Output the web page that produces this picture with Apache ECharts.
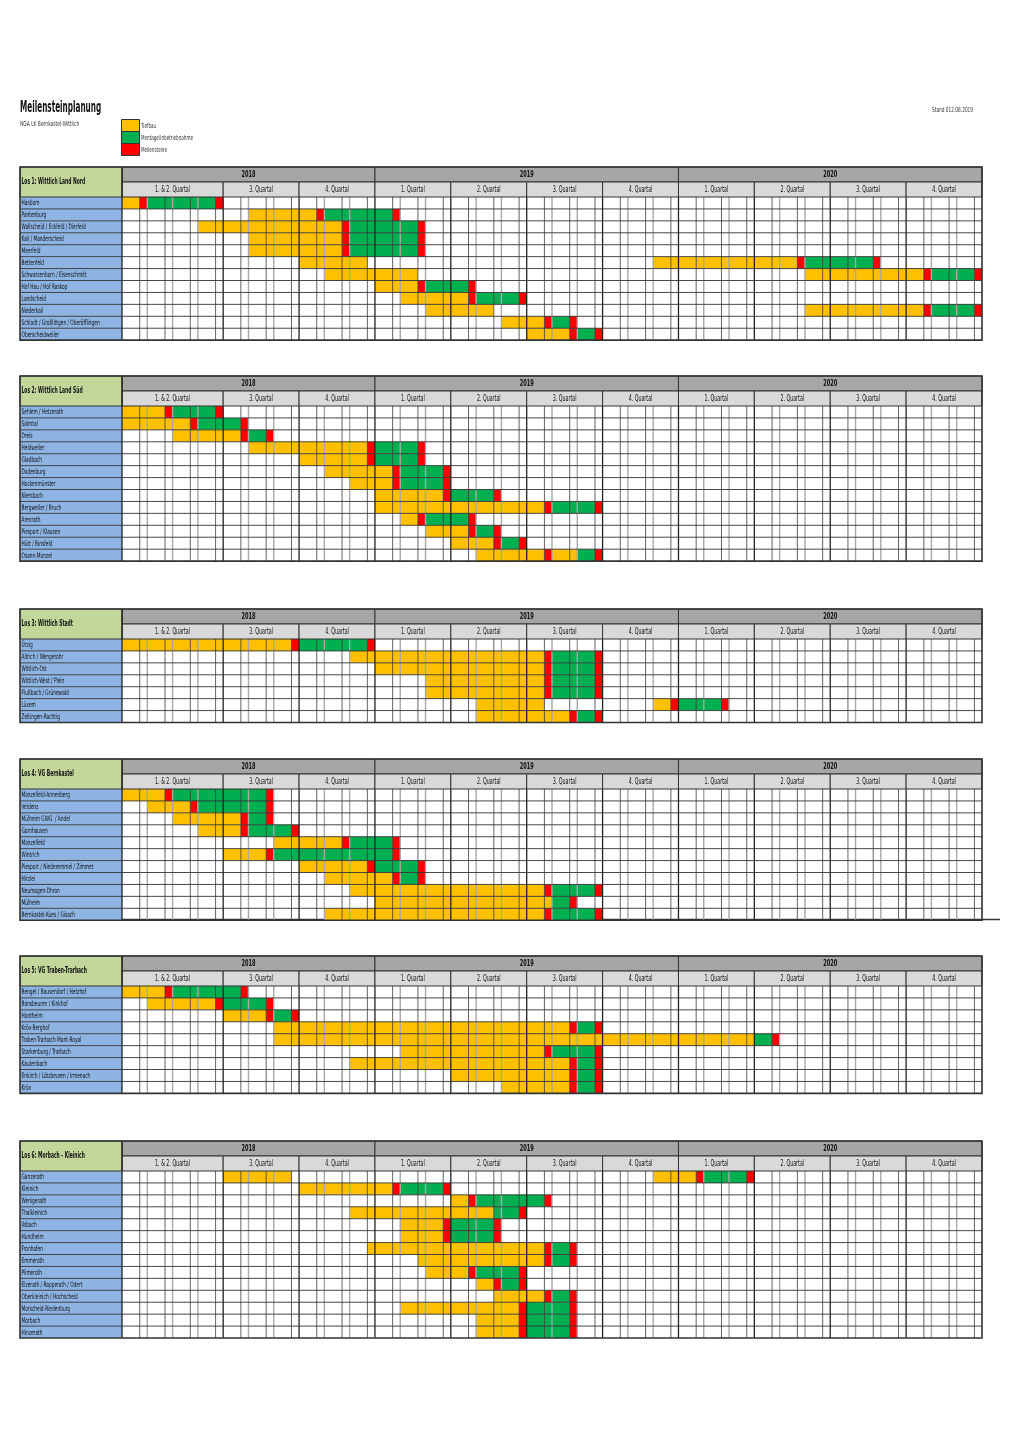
<!DOCTYPE html>
<html><head><meta charset="utf-8">
<script src="https://cdn.jsdelivr.net/npm/echarts@6/dist/echarts.min.js"></script>
<style>html,body{margin:0;padding:0;background:#fff}#c{width:1020px;height:1441px}</style>
</head><body><div id="c"></div>
<script>
// ---------------- DATA ----------------
const years = ['2018', '2019', '2020'];
const yearMonths = [10, 12, 12];
const quarterLabels = ['1. & 2. Quartal', '3. Quartal', '4. Quartal',
  '1. Quartal', '2. Quartal', '3. Quartal', '4. Quartal',
  '1. Quartal', '2. Quartal', '3. Quartal', '4. Quartal'];
const quarterMonths = [4, 3, 3, 3, 3, 3, 3, 3, 3, 3, 3];
const phaseNames = ['Tiefbau', 'Montage/Inbetriebnahme', 'Meilensteine'];
const phaseKeys = { T: 0, M: 1, S: 2 };

// bars: [row, phase, fromSubColumn, toSubColumn]  (each month = wide + narrow sub-column)
const los1Title = 'Los 1: Wittlich Land Nord';
const los1Rows = ['Hasborn', 'Pantenburg', 'Wallscheid / Eckfeld / Dierfeld', 'Kail / Manderscheid', 'Meerfeld',
  'Bettenfeld', 'Schwarzenborn / Eisenschmitt', 'Hof Hau / Hof Raskop', 'Landscheid', 'Niederkail',
  'Schladt / Großlittgen / Oberöfflingen', 'Oberscheidweiler'];
const los1Bars = [
  [0,'T',0,0],[0,'S',1,1],[0,'M',2,6],[0,'S',7,7],
  [1,'T',10,14],[1,'S',15,15],[1,'M',16,20],[1,'S',21,21],
  [2,'T',6,16],[2,'S',17,17],[2,'M',18,22],[2,'S',23,23],
  [3,'T',10,16],[3,'S',17,17],[3,'M',18,22],[3,'S',23,23],
  [4,'T',10,16],[4,'S',17,17],[4,'M',18,22],[4,'S',23,23],
  [5,'T',14,18],[5,'T',42,52],[5,'S',53,53],[5,'M',54,58],[5,'S',59,59],
  [6,'T',16,22],[6,'T',54,62],[6,'S',63,63],[6,'M',64,66],[6,'S',67,67],
  [7,'T',20,22],[7,'S',23,23],[7,'M',24,26],[7,'S',27,27],
  [8,'T',22,26],[8,'S',27,27],[8,'M',28,30],[8,'S',31,31],
  [9,'T',24,28],[9,'T',54,62],[9,'S',63,63],[9,'M',64,66],[9,'S',67,67],
  [10,'T',30,32],[10,'S',33,33],[10,'M',34,34],[10,'S',35,35],
  [11,'T',32,34],[11,'S',35,35],[11,'M',36,36],[11,'S',37,37]
];

const los2Title = 'Los 2: Wittlich Land Süd';
const los2Rows = ['Sehlem / Hetzerath', 'Salmtal', 'Dreis', 'Heidweiler', 'Gladbach', 'Dodenburg', 'Hockenmünster',
  'Niersbach', 'Bergweiler / Bruch', 'Arenrath', 'Piesport / Klausen', 'Hütt / Binsfeld', 'Osann-Monzel'];
const los2Bars = [
  [0,'T',0,2],[0,'S',3,3],[0,'M',4,6],[0,'S',7,7],
  [1,'T',0,4],[1,'S',5,5],[1,'M',6,8],[1,'S',9,9],
  [2,'T',4,8],[2,'S',9,9],[2,'M',10,10],[2,'S',11,11],
  [3,'T',10,18],[3,'S',19,19],[3,'M',20,22],[3,'S',23,23],
  [4,'T',14,18],[4,'S',19,19],[4,'M',20,22],[4,'S',23,23],
  [5,'T',16,20],[5,'S',21,21],[5,'M',22,24],[5,'S',25,25],
  [6,'T',18,20],[6,'S',21,21],[6,'M',22,24],[6,'S',25,25],
  [7,'T',20,24],[7,'S',25,25],[7,'M',26,28],[7,'S',29,29],
  [8,'T',20,32],[8,'S',33,33],[8,'M',34,36],[8,'S',37,37],
  [9,'T',22,22],[9,'S',23,23],[9,'M',24,26],[9,'S',27,27],
  [10,'T',24,26],[10,'S',27,27],[10,'M',28,28],[10,'S',29,29],
  [11,'T',26,28],[11,'S',29,29],[11,'M',30,30],[11,'S',31,31],
  [12,'T',28,32],[12,'S',33,33],[12,'T',34,35],[12,'M',36,36],[12,'S',37,37]
];

const los3Title = 'Los 3: Wittlich Stadt';
const los3Rows = ['Ürzig', 'Altrich / Wengerohr', 'Wittlich-Ost', 'Wittlich-West / Plein', 'Flußbach / Grünewald',
  'Lüxem', 'Zeltingen-Rachtig'];
const los3Bars = [
  [0,'T',0,12],[0,'S',13,13],[0,'M',14,18],[0,'S',19,19],
  [1,'T',18,32],[1,'S',33,33],[1,'M',34,36],[1,'S',37,37],
  [2,'T',20,32],[2,'S',33,33],[2,'M',34,36],[2,'S',37,37],
  [3,'T',24,32],[3,'S',33,33],[3,'M',34,36],[3,'S',37,37],
  [4,'T',24,32],[4,'S',33,33],[4,'M',34,36],[4,'S',37,37],
  [5,'T',28,32],[5,'T',42,42],[5,'S',43,43],[5,'M',44,46],[5,'S',47,47],
  [6,'T',28,34],[6,'S',35,35],[6,'M',36,36],[6,'S',37,37]
];

const los4Title = 'Los 4: VG Bernkastel';
const los4Rows = ['Monzelfeld-Annenberg', 'Veldenz', 'Mülheim GWG  / Andel', 'Gornhausen', 'Monzelfeld', 'Wintrich',
  'Piesport / Niederemmel / Zimmet', 'Hirzlei', 'Neumagen-Dhron', 'Mülheim', 'Bernkastel-Kues / Gisach'];
const los4Bars = [
  [0,'T',0,2],[0,'S',3,3],[0,'M',4,10],[0,'S',11,11],
  [1,'T',2,4],[1,'S',5,5],[1,'M',6,10],[1,'S',11,11],
  [2,'T',4,8],[2,'S',9,9],[2,'M',10,10],[2,'S',11,11],
  [3,'T',6,8],[3,'S',9,9],[3,'M',10,12],[3,'S',13,13],
  [4,'T',12,16],[4,'S',17,17],[4,'M',18,20],[4,'S',21,21],
  [5,'T',8,10],[5,'S',11,11],[5,'M',12,20],[5,'S',21,21],
  [6,'T',14,18],[6,'S',19,19],[6,'M',20,22],[6,'S',23,23],
  [7,'T',16,20],[7,'S',21,21],[7,'M',22,22],[7,'S',23,23],
  [8,'T',18,32],[8,'S',33,33],[8,'M',34,36],[8,'S',37,37],
  [9,'T',20,33],[9,'M',34,34],[9,'S',35,35],
  [10,'T',16,32],[10,'S',33,33],[10,'M',34,36],[10,'S',37,37]
];

const los5Title = 'Los 5: VG Traben-Trarbach';
const los5Rows = ['Bengel / Bausendorf / Hetzhof', 'Bonsbeuren / Kinkhof', 'Hontheim', 'Kröv-Berghof',
  'Traben-Trarbach Mont-Royal', 'Starkenburg / Trarbach', 'Kautenbach', 'Enkirch / Lötzbeuren / Irmenach', 'Kröv'];
const los5Bars = [
  [0,'T',0,2],[0,'S',3,3],[0,'M',4,8],[0,'S',9,9],
  [1,'T',2,6],[1,'S',7,7],[1,'M',8,10],[1,'S',11,11],
  [2,'T',8,10],[2,'S',11,11],[2,'M',12,12],[2,'S',13,13],
  [3,'T',12,34],[3,'S',35,35],[3,'M',36,36],[3,'S',37,37],
  [4,'T',12,49],[4,'M',50,50],[4,'S',51,51],
  [5,'T',22,32],[5,'S',33,33],[5,'M',34,36],[5,'S',37,37],
  [6,'T',18,34],[6,'S',35,35],[6,'M',36,36],[6,'S',37,37],
  [7,'T',26,34],[7,'S',35,35],[7,'M',36,36],[7,'S',37,37],
  [8,'T',30,34],[8,'S',35,35],[8,'M',36,36],[8,'S',37,37]
];

const los6Title = 'Los 6: Morbach - Kleinich';
const los6Rows = ['Ganzerath', 'Kleinich', 'Wenigerath', 'Thalkleinich', 'Ilsbach', 'Hundheim', 'Fronhofen', 'Emmeroth',
  'Pilmeroth', 'Elzerath / Rapperath / Odert', 'Oberkleinich / Hochscheid', 'Morscheid-Riedenburg', 'Morbach', 'Hinzerath'];
const los6Bars = [
  [0,'T',8,12],[0,'T',42,44],[0,'S',45,45],[0,'M',46,48],[0,'S',49,49],
  [1,'T',14,20],[1,'S',21,21],[1,'M',22,24],[1,'S',25,25],
  [2,'T',26,26],[2,'S',27,27],[2,'M',28,32],[2,'S',33,33],
  [3,'T',18,28],[3,'M',29,30],[3,'S',31,31],
  [4,'T',22,24],[4,'S',25,25],[4,'M',26,28],[4,'S',29,29],
  [5,'T',22,24],[5,'S',25,25],[5,'M',26,28],[5,'S',29,29],
  [6,'T',19,32],[6,'S',33,33],[6,'M',34,34],[6,'S',35,35],
  [7,'T',23,32],[7,'S',33,33],[7,'M',34,34],[7,'S',35,35],
  [8,'T',24,26],[8,'S',27,27],[8,'M',28,30],[8,'S',31,31],
  [9,'T',28,28],[9,'S',29,29],[9,'M',30,30],[9,'S',31,31],
  [10,'T',29,32],[10,'S',33,33],[10,'M',34,34],[10,'S',35,35],
  [11,'T',22,30],[11,'S',31,31],[11,'M',32,34],[11,'S',35,35],
  [12,'T',28,30],[12,'S',31,31],[12,'M',32,34],[12,'S',35,35],
  [13,'T',28,30],[13,'S',31,31],[13,'M',32,34],[13,'S',35,35]
];

// ---------------- LAYOUT / STYLE ----------------
const FONT = "'Liberation Sans Narrow','Arial Narrow','DejaVu Sans Condensed',sans-serif";
const TS = 0.64;
const L = { left: 20, labelW: 102, gridW: 860, tops: [167, 376, 609, 759, 956, 1141], rowH: 11.93, headH: 15 };
const COLORS = ['#ffc000', '#00b050', '#ff0000'];
const WIDE = 0.7;

const tables = [
  { title: los1Title, rows: los1Rows, bars: los1Bars },
  { title: los2Title, rows: los2Rows, bars: los2Bars },
  { title: los3Title, rows: los3Rows, bars: los3Bars },
  { title: los4Title, rows: los4Rows, bars: los4Bars },
  { title: los5Title, rows: los5Rows, bars: los5Bars },
  { title: los6Title, rows: los6Rows, bars: los6Bars }
];

const MONTHS = yearMonths.reduce((a, b) => a + b, 0);
const LABW = L.labelW / (L.gridW / MONTHS);
const HDR = 2 * L.headH / L.rowH;
function subStart(c) { return Math.floor(c / 2) + (c % 2 ? WIDE : 0); }
function subEnd(c) { return Math.floor(c / 2) + (c % 2 ? 1 : WIDE); }
function cum(arr) { const o = [0]; arr.forEach(v => o.push(o[o.length - 1] + v)); return o; }
const yearEdges = cum(yearMonths);
const quarterEdges = cum(quarterMonths);

function txt(x, y, text, font, align, scale) {
  return { type: 'text', x: x, y: y, scaleX: scale || TS, silent: true,
    style: { text: text, fill: '#111', font: font, align: align || 'left', verticalAlign: 'middle',
      textAlign: align || 'left', textVerticalAlign: 'middle' } };
}
function rect(a, b, style) {
  return { type: 'rect', shape: { x: a[0], y: a[1], width: b[0] - a[0], height: b[1] - a[1] }, style: style };
}
function line(a, b, stroke, w) {
  return { type: 'line', shape: { x1: a[0], y1: a[1], x2: b[0], y2: b[1] }, style: { stroke: stroke, lineWidth: w } };
}

const grids = [], xAxes = [], yAxes = [], series = [];
tables.forEach((t, k) => {
  const n = t.rows.length;
  grids.push({ left: L.left, top: L.tops[k], width: L.labelW + L.gridW, height: 2 * L.headH + n * L.rowH });
  xAxes.push({ type: 'value', gridIndex: k, min: -LABW, max: MONTHS, show: false });
  yAxes.push({ type: 'value', gridIndex: k, min: -HDR, max: n, inverse: true, show: false });

  // row label cells
  series.push({
    type: 'custom', xAxisIndex: k, yAxisIndex: k, z: 2, silent: true, clip: false,
    data: t.rows.map((r, i) => [i]),
    renderItem: (p, api) => {
      const i = api.value(0);
      const a = api.coord([-LABW, i]), b = api.coord([0, i + 1]);
      return { type: 'group', children: [
        rect(a, b, { fill: '#8db4e2' }),
        txt(a[0] + 1.5, (a[1] + b[1]) / 2 + 0.5, t.rows[i], '7.5px ' + FONT, 'left')
      ] };
    }
  });

  // bars
  series.push({
    type: 'custom', xAxisIndex: k, yAxisIndex: k, z: 3, silent: true, clip: false,
    encode: { x: [2, 3], y: 0 },
    data: t.bars.map(b => [b[0], phaseKeys[b[1]], subStart(b[2]), subEnd(b[3])]),
    renderItem: (p, api) => {
      const r = api.value(0), ph = api.value(1);
      const a = api.coord([api.value(2), r]), b = api.coord([api.value(3), r + 1]);
      return rect(a, b, { fill: COLORS[ph] });
    }
  });

  // grid lines: [kind, value]
  const gl = [];
  for (let m = 1; m < MONTHS; m++) if (quarterEdges.indexOf(m) < 0) gl.push([0, m]);
  for (let m = 0; m < MONTHS; m++) gl.push([1, m + WIDE]);
  for (let i = 1; i < n; i++) gl.push([3, i]);
  quarterEdges.slice(1, -1).forEach(q => gl.push([2, q]));
  series.push({
    type: 'custom', xAxisIndex: k, yAxisIndex: k, z: 4, silent: true, clip: false,
    data: gl,
    renderItem: (p, api) => {
      const kind = api.value(0), v = api.value(1);
      if (kind === 0) return line(api.coord([v, 0]), api.coord([v, n]), '#a8a8a8', 1.4);
      if (kind === 1) return line(api.coord([v, 0]), api.coord([v, n]), '#3c3c3c', 0.8);
      if (kind === 2) return line(api.coord([v, 0]), api.coord([v, n]), '#222', 1.3);
      return line(api.coord([-LABW, v]), api.coord([MONTHS, v]), '#333', 0.9);
    }
  });

  // header cells: [kind, x0, x1, idx]
  const hd = [];
  years.forEach((y, i) => hd.push([0, yearEdges[i], yearEdges[i + 1], i]));
  quarterLabels.forEach((q, i) => hd.push([1, quarterEdges[i], quarterEdges[i + 1], i]));
  hd.push([2, -LABW, 0, 0]);
  hd.push([3, -LABW, MONTHS, 0]);
  series.push({
    type: 'custom', xAxisIndex: k, yAxisIndex: k, z: 5, silent: true, clip: false,
    data: hd,
    renderItem: (p, api) => {
      const kind = api.value(0), x0 = api.value(1), x1 = api.value(2), idx = api.value(3);
      if (kind === 0) {
        const a = api.coord([x0, -HDR]), b = api.coord([x1, -HDR / 2]);
        return { type: 'group', children: [
          rect(a, b, { fill: '#a6a6a6', stroke: '#333', lineWidth: 1 }),
          txt((a[0] + b[0]) / 2, (a[1] + b[1]) / 2 + 0.5, years[idx], 'bold 8px ' + FONT, 'center', 0.7)
        ] };
      }
      if (kind === 1) {
        const a = api.coord([x0, -HDR / 2]), b = api.coord([x1, 0]);
        return { type: 'group', children: [
          rect(a, b, { fill: '#d9d9d9', stroke: '#333', lineWidth: 1 }),
          txt((a[0] + b[0]) / 2, (a[1] + b[1]) / 2 + 0.5, quarterLabels[idx], '8px ' + FONT, 'center', 0.66)
        ] };
      }
      if (kind === 2) {
        const a = api.coord([x0, -HDR]), b = api.coord([x1, 0]);
        return { type: 'group', children: [
          rect(a, b, { fill: '#c4d79b', stroke: '#333', lineWidth: 1 }),
          txt(a[0] + 1.5, (a[1] + b[1]) / 2, t.title, 'bold 8px ' + FONT, 'left', 0.62)
        ] };
      }
      const a = api.coord([x0, -HDR]), b = api.coord([x1, n]);
      const c0 = api.coord([0, -HDR]), c1 = api.coord([0, n]);
      return { type: 'group', children: [
        line(c0, c1, '#222', 1.3),
        rect(a, b, { fill: 'none', stroke: '#333', lineWidth: 1.6 })
      ] };
    }
  });
});

// ---------------- TITLE / LEGEND ----------------
const graphics = [
  { type: 'text', left: 20, top: 101, scaleX: 0.54,
    style: { text: 'Meilensteinplanung', font: 'bold 15px ' + FONT, fill: '#111' } },
  { type: 'text', x: 20, y: 121, scaleX: 0.7,
    style: { text: 'NGA LK Bernkastel-Wittlich', font: '7px ' + FONT, fill: '#333' } },
  { type: 'text', x: 932, y: 107, scaleX: 0.68,
    style: { text: 'Stand 012.08.2019', font: '7px ' + FONT, fill: '#333' } },
  { type: 'line', shape: { x1: 20, y1: 919.5, x2: 1000, y2: 919.5 }, style: { stroke: '#333', lineWidth: 1.4 } }
];
phaseNames.forEach((nm, i) => {
  graphics.push({ type: 'rect', shape: { x: 121.5, y: 119.5 + i * 12, width: 18, height: 12 },
    style: { fill: COLORS[i], stroke: '#333', lineWidth: 1 } });
  graphics.push({ type: 'text', x: 141, y: 126 + i * 12, scaleX: 0.65,
    style: { text: nm, font: '7px ' + FONT, fill: '#333', verticalAlign: 'middle', textVerticalAlign: 'middle' } });
});

const chart = echarts.init(document.getElementById('c'), null, { renderer: 'canvas', width: 1020, height: 1441 });
chart.setOption({
  animation: false,
  backgroundColor: '#fff',
  grid: grids, xAxis: xAxes, yAxis: yAxes,
  series: series,
  graphic: graphics
});
</script></body></html>
